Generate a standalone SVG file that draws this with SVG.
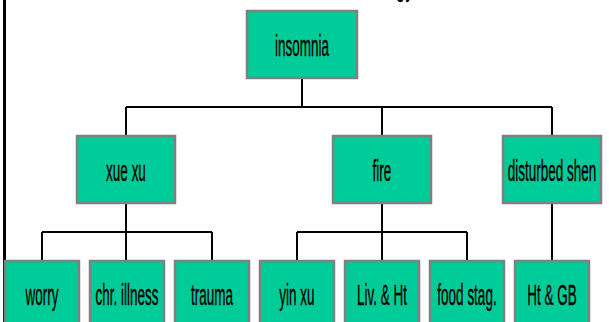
<svg xmlns="http://www.w3.org/2000/svg" width="609" height="322" viewBox="0 0 609 322">
<style>
.box{fill:#00CC99;stroke:#808080;stroke-width:2.5}
.lbl{font-family:"Liberation Sans",Arial,sans-serif;font-size:30px;fill:#000;stroke:#000;stroke-width:0.4;text-anchor:middle}
.con{fill:none;stroke:#000;stroke-width:2}
</style>
<rect width="609" height="322" fill="#fff"/>
<line x1="4.5" y1="0" x2="4.5" y2="322" stroke="#000" stroke-width="3"/>
<g transform="translate(405,-6) scale(0.45,1)"><text class="lbl" x="0" y="0" style="font-size:40px">gy</text></g>
<g id="connectors">
<path class="con" d="M302,78 V107 M126,107 H552 M126,107 V136 M382,107 V136 M552,107 V136"/>
<path class="con" d="M126,203 V261 M42,232 H212 M42,232 V261 M212,232 V261"/>
<path class="con" d="M382,203 V261 M297,232 H467 M297,232 V261 M467,232 V261"/>
<path class="con" d="M552,203 V261"/>
</g>
<g id="insomnia"><rect class="box" x="247" y="11" width="110" height="67"/><g transform="translate(302,56) scale(0.45,1)"><text class="lbl">insomnia</text></g></g>
<g id="xuexu"><rect class="box" x="77" y="136" width="98" height="67"/><g transform="translate(126,181) scale(0.45,1)"><text class="lbl">xue xu</text></g></g>
<g id="fire"><rect class="box" x="333" y="136" width="98" height="67"/><g transform="translate(382,181) scale(0.45,1)"><text class="lbl">fire</text></g></g>
<g id="disturbedshen"><rect class="box" x="503" y="136" width="98" height="67"/><g transform="translate(552,181) scale(0.45,1)"><text class="lbl">disturbed shen</text></g></g>
<g id="worry"><rect class="box" x="5" y="261" width="74" height="67"/><g transform="translate(42,305) scale(0.45,1)"><text class="lbl">worry</text></g></g>
<g id="chrillness"><rect class="box" x="90" y="261" width="74" height="67"/><g transform="translate(127,305) scale(0.45,1)"><text class="lbl">chr. illness</text></g></g>
<g id="trauma"><rect class="box" x="175" y="261" width="74" height="67"/><g transform="translate(212,305) scale(0.45,1)"><text class="lbl">trauma</text></g></g>
<g id="yinxu"><rect class="box" x="260" y="261" width="74" height="67"/><g transform="translate(297,305) scale(0.45,1)"><text class="lbl">yin xu</text></g></g>
<g id="livht"><rect class="box" x="345" y="261" width="74" height="67"/><g transform="translate(382,305) scale(0.45,1)"><text class="lbl">Liv. &amp; Ht</text></g></g>
<g id="foodstag"><rect class="box" x="430" y="261" width="74" height="67"/><g transform="translate(467,305) scale(0.45,1)"><text class="lbl">food stag.</text></g></g>
<g id="htgb"><rect class="box" x="515" y="261" width="74" height="67"/><g transform="translate(552,305) scale(0.45,1)"><text class="lbl">Ht &amp; GB</text></g></g>
</svg>
